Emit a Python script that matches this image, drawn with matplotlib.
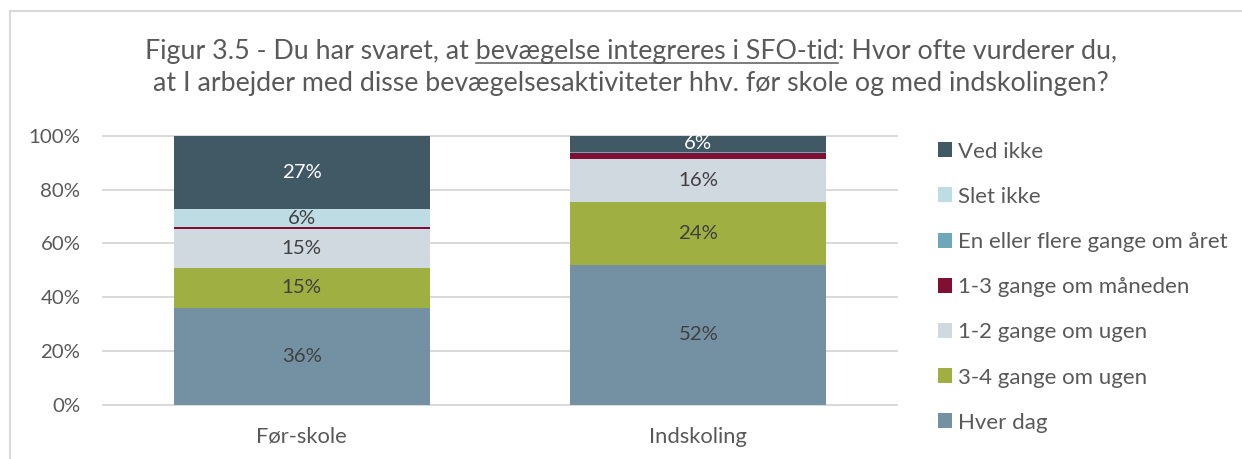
import matplotlib
matplotlib.use("Agg")
import matplotlib.pyplot as plt
from matplotlib.lines import Line2D
import numpy as np

# ---------------- data ----------------
categories = ["Før-skole", "Indskoling"]
series_names = ["Hver dag", "3-4 gange om ugen", "1-2 gange om ugen",
                "1-3 gange om måneden", "En eller flere gange om året",
                "Slet ikke", "Ved ikke"]
hver_dag = [36.0, 51.8]
tre_fire_ugen = [14.9, 23.7]
en_to_ugen = [14.6, 16.0]
en_tre_maaned = [0.4, 2.0]
en_flere_aaret = [0.3, 0.6]
slet_ikke = [6.4, 0.0]
ved_ikke = [27.4, 5.9]
y_ticks = [0, 20, 40, 60, 80, 100]
y_tick_labels = ["0%", "20%", "40%", "60%", "80%", "100%"]
title_prefix = "Figur 3.5 - Du har svaret, at "
title_underlined = "bevægelse integreres i SFO-tid"
title_suffix = ": Hvor ofte vurderer du,"
title_line2 = "at I arbejder med disse bevægelsesaktiviteter hhv. før skole og med indskolingen?"

series_values = [hver_dag, tre_fire_ugen, en_to_ugen, en_tre_maaned,
                 en_flere_aaret, slet_ikke, ved_ikke]
colors = ["#7491A3", "#9FAF42", "#D0D8E0", "#7F1034", "#6FA7BA", "#BDDCE3", "#415865"]
label_colors = ["#404040"] * 6 + ["white"]
text_gray = "#595959"

plt.rcParams["font.family"] = ["Lato", "DejaVu Sans"]

W, H = 1242, 459
fig = plt.figure(figsize=(W / 100, H / 100), dpi=100)
fig.patch.set_facecolor("white")
renderer = fig.canvas.get_renderer()


def text_width(s, size):
    t = fig.text(0, 0, s, fontsize=size)
    bb = t.get_window_extent(renderer)
    t.remove()
    return bb.width, bb.height


def fit_size(s, target_px):
    w, _ = text_width(s, 10)
    return 10 * target_px / w


title_size = fit_size(title_prefix + title_underlined + title_suffix, 972)
legend_size = fit_size("En eller flere gange om året", 268)
tick_size = fit_size("100%", 51.7)
cat_size = fit_size("Indskoling", 98)
label_size = fit_size("27%", 40)

# ---------------- axes ----------------
ax_left, ax_right, ax_top, ax_bottom = 103.3, 896.7, 135.8, 404.5
ax = fig.add_axes([ax_left / W, 1 - ax_bottom / H,
                   (ax_right - ax_left) / W, (ax_bottom - ax_top) / H])

x = np.arange(len(categories))
bottom = np.zeros(len(categories))
handles = []
for name, vals, c, lc in zip(series_names, series_values, colors, label_colors):
    vals = np.array(vals)
    bars = ax.bar(x, vals, width=0.646, bottom=bottom, color=c, label=name,
                  zorder=3, linewidth=0)
    labels = [f"{v:.0f}%" if v >= 5 else "" for v in vals]
    ax.bar_label(bars, labels=labels, label_type="center", color=lc,
                 fontsize=label_size)
    handles.append(bars)
    bottom += vals

ax.set_xlim(-0.5, 1.5)
ax.set_ylim(0, 100)
ax.set_yticks(y_ticks, y_tick_labels)
ax.set_xticks(x, categories)
ax.yaxis.grid(True, color="#D9D9D9", linewidth=1.4, zorder=0)
for gl in ax.yaxis.get_gridlines():
    gl.set_clip_on(False)
ax.set_axisbelow(True)
for s in ax.spines.values():
    s.set_visible(False)
ax.tick_params(axis="y", length=0, pad=16.5, labelcolor=text_gray, labelsize=tick_size)
ax.tick_params(axis="x", length=0, pad=16, labelcolor=text_gray, labelsize=cat_size)

# ---------------- legend ----------------
fs_px = legend_size * 100 / 72
_, h_text = text_width("Ved ikke", legend_size)
pitch = 45.2
leg = ax.legend(handles[::-1], series_names[::-1], loc="upper left",
                bbox_to_anchor=(937.7 / W, 1 - 141.5 / H), bbox_transform=fig.transFigure,
                frameon=False, fontsize=legend_size, labelcolor=text_gray,
                handlelength=14.7 / fs_px, handleheight=14.7 / fs_px,
                handletextpad=5.5 / fs_px, labelspacing=(pitch - h_text) / fs_px,
                borderpad=0, borderaxespad=0)

# ---------------- title ----------------
cx = 631
line1 = title_prefix + title_underlined + title_suffix
w_full, _ = text_width(line1, title_size)
x0 = cx - w_full / 2
y1 = 59.5
y2 = 91.5
fig.text(x0 / W, 1 - y1 / H, line1, fontsize=title_size, color=text_gray,
         ha="left", va="baseline")
fig.text(cx / W, 1 - y2 / H, title_line2, fontsize=title_size, color=text_gray,
         ha="center", va="baseline")
wb, _ = text_width("b", title_size)
wpb, _ = text_width(title_prefix + "b", title_size)
wpu, _ = text_width(title_prefix + title_underlined, title_size)
ul_start = x0 + wpb - wb
ul_end = x0 + wpu
uy = y1 + 3.5
fig.add_artist(Line2D([ul_start / W, ul_end / W], [1 - uy / H, 1 - uy / H],
                      transform=fig.transFigure, color=text_gray, linewidth=1.1))

# ---------------- frame ----------------
fig.add_artist(Line2D([10 / W, 1], [1 - 11 / H, 1 - 11 / H], transform=fig.transFigure,
                      color="#D9D9D9", linewidth=1.5))
fig.add_artist(Line2D([10 / W, 10 / W], [0, 1 - 11 / H], transform=fig.transFigure,
                      color="#D9D9D9", linewidth=1.5))

fig.savefig("out.png", dpi=100, facecolor="white")
